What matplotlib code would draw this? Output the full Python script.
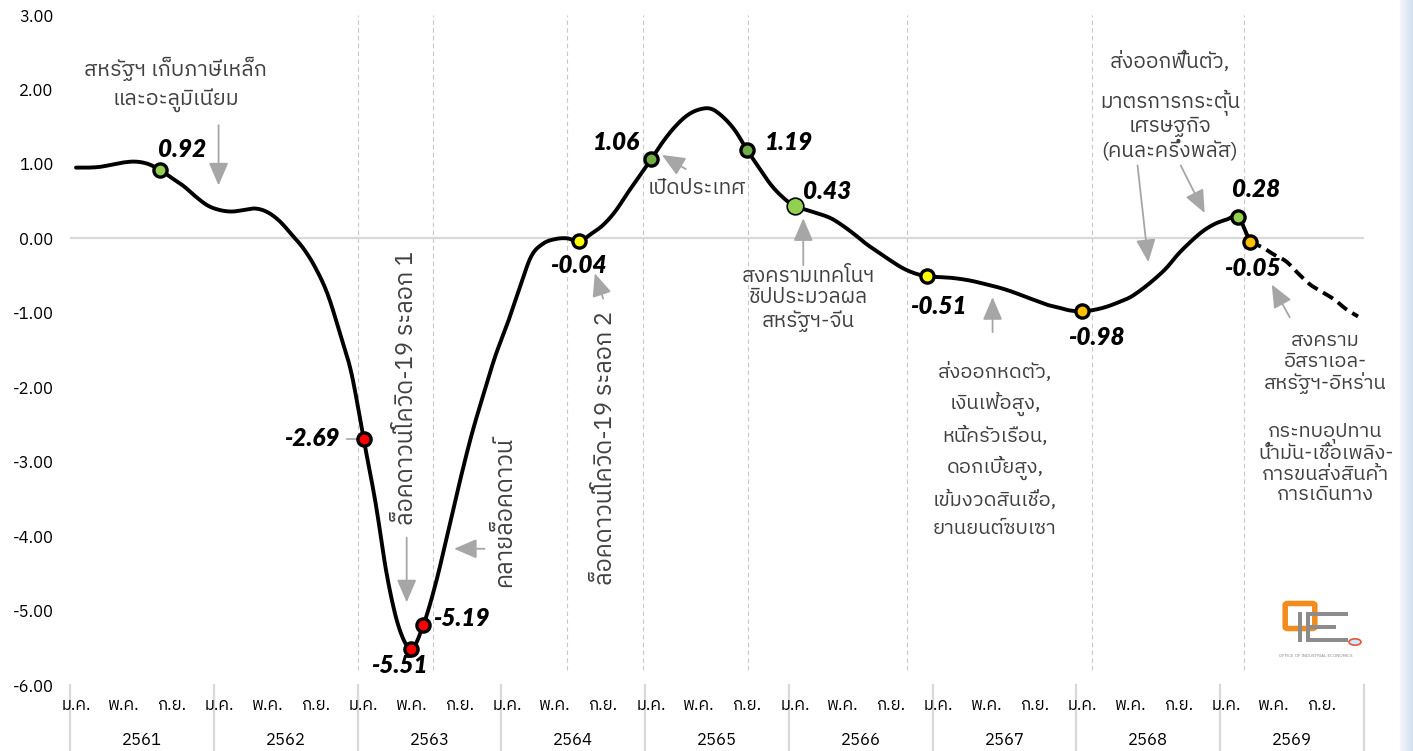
import matplotlib

matplotlib.use("Agg")
import matplotlib.pyplot as plt
import numpy as np
from matplotlib import font_manager as fm
from matplotlib.ft2font import FT2Font
from matplotlib.colors import LinearSegmentedColormap
from matplotlib.patches import FancyBboxPatch, Rectangle, Circle

# ---- data (monthly index, Jan 2561 = 0) ----
years = ["2561", "2562", "2563", "2564", "2565", "2566", "2567", "2568", "2569"]
month_labels = ["ม.ค.", "พ.ค.", "ก.ย."]
month_offsets = [0, 4, 8]

actual = [
    0.95, 0.95, 0.96, 0.99, 1.02, 1.03, 1.00, 0.92, 0.81, 0.70, 0.56, 0.44,
    0.38, 0.36, 0.38, 0.40, 0.35, 0.23, 0.05, -0.14, -0.40, -0.75, -1.26, -1.82,
    -2.69, -3.55, -4.57, -5.25, -5.51, -5.19, -4.65, -3.98, -3.29, -2.65, -2.10, -1.58,
    -1.15, -0.68, -0.24, -0.07, -0.01, 0.00, -0.04, 0.06, 0.18, 0.36, 0.60, 0.83,
    1.06, 1.30, 1.50, 1.65, 1.73, 1.74, 1.63, 1.45, 1.19, 0.95, 0.72, 0.55,
    0.43, 0.38, 0.33, 0.27, 0.17, 0.05, -0.08, -0.19, -0.30, -0.40, -0.47, -0.51,
    -0.52, -0.53, -0.55, -0.58, -0.62, -0.66, -0.71, -0.77, -0.83, -0.89, -0.93, -0.97,
    -0.98, -0.96, -0.92, -0.86, -0.79, -0.68, -0.55, -0.40, -0.21, -0.05, 0.09, 0.19,
    0.25, 0.28, -0.05,
]
forecast = [-0.05, -0.12, -0.22, -0.31, -0.47, -0.62, -0.72, -0.82, -0.95, -1.05]

marker_months = [7, 24, 28, 29, 42, 48, 56, 60, 71, 84, 97, 98]
marker_colors = ["#92D050", "#FF0000", "#FF0000", "#FF0000", "#FFFF00", "#70AD47",
                 "#70AD47", "#92D050", "#FFFF00", "#FFC000", "#92D050", "#FFC000"]
event_lines = [23.5, 29.8, 41.0, 47.35, 56.1, 69.35, 84.8, 97.45]


def thai_family():
    found = []
    for entry in fm.fontManager.ttflist:
        try:
            cmap = FT2Font(entry.fname).get_charmap()
        except Exception:
            continue
        if 0x0E01 in cmap and 0x0E2A in cmap:
            found.append(entry.name)
    found = sorted(set(found), key=lambda n: ("Thai" not in n, "Looped" in n, n))
    return found[0] if found else "DejaVu Sans"


def smooth(xs, ys, steps=8):
    # Catmull-Rom path through the points, like a spreadsheet "smoothed line"
    xs, ys = np.asarray(xs, float), np.asarray(ys, float)
    px_ = np.concatenate([[2 * xs[0] - xs[1]], xs, [2 * xs[-1] - xs[-2]]])
    py_ = np.concatenate([[2 * ys[0] - ys[1]], ys, [2 * ys[-1] - ys[-2]]])
    out_x, out_y = [], []
    t = np.linspace(0, 1, steps, endpoint=False)
    for i in range(1, len(px_) - 2):
        for arr_in, out in ((px_, out_x), (py_, out_y)):
            p0, p1, p2, p3 = arr_in[i - 1:i + 3]
            out.extend(0.5 * ((2 * p1) + (-p0 + p2) * t + (2 * p0 - 5 * p1 + 4 * p2 - p3) * t ** 2
                              + (-p0 + 3 * p1 - 3 * p2 + p3) * t ** 3))
    out_x.append(xs[-1])
    out_y.append(ys[-1])
    return out_x, out_y


THAI = thai_family()
plt.rcParams["font.family"] = [THAI, "DejaVu Sans"]

W, H = 1413, 751
fig = plt.figure(figsize=(W / 100, H / 100), dpi=100)
fig.patch.set_facecolor("white")
ax = fig.add_axes([70 / W, 66 / H, 1294 / W, 670 / H])
ax.set_xlim(-0.5, 107.5)
ax.set_ylim(-6, 3)
for spine in ax.spines.values():
    spine.set_visible(False)

n_act = len(actual)
x_act = np.arange(n_act)
x_fc = np.arange(n_act - 1, n_act - 1 + len(forecast))

ax.axhline(0, color="#D9D9D9", lw=1.6, zorder=1)
for m in event_lines:
    ax.axvline(m, ymin=0.022, ymax=1, color="#C8C8C8", lw=0.8, ls=(0, (4, 3)), zorder=0)

ax.plot(*smooth(x_act, actual), color="black", lw=2.8, solid_joinstyle="round",
        solid_capstyle="round", zorder=3)
ax.plot(*smooth(x_fc, forecast), color="black", lw=2.8, ls=(0, (3, 1.6)), zorder=3)

series = list(actual) + list(forecast[1:])
for m, c in zip(marker_months, marker_colors):
    big = m == 60
    ax.plot(m, series[m], "o", ms=12 if big else 9.5, mfc=c, mec="black",
            mew=1.2 if big else 2.4, zorder=5)

label_offsets = {7: (22, 20, "center"), 24: (-24, 0, "right"), 28: (-12, -17, "center"),
                 29: (10, 6, "left"), 42: (-1, -24, "center"), 48: (-35, 17, "center"),
                 56: (42, 7, "center"), 60: (32, 15, "center"), 71: (12, -30, "center"),
                 84: (14, -26, "center"), 97: (18, 28, "center"), 98: (2, -26, "center")}
for m in marker_months:
    dx, dy, ha = label_offsets[m]
    ax.annotate(f"{series[m]:.2f}", (m, series[m]), xytext=(dx, dy), textcoords="offset pixels",
                ha=ha, va="center", fontsize=17.5, fontweight="heavy", style="italic",
                family=["Lato", "DejaVu Sans"], color="black", zorder=6)

# leader tick for -2.69
ax.plot([22.6, 23.7], [-2.69, -2.69], color="#A6A6A6", lw=1.2, zorder=4)

# ---- annotations ----
gray_txt = "#404040"
arrow = dict(arrowstyle="-|>,head_length=0.7,head_width=0.3", color="#A6A6A6", lw=1.3,
             mutation_scale=20, shrinkA=0, shrinkB=0)
tsize = 14.5


def note(x, y, text, rot=0, ls=1.25, size=tsize):
    ax.text(x, y, text, ha="center", va="center", rotation=rot, fontsize=size,
            color=gray_txt, linespacing=ls, zorder=4)


def arr(x0, y0, x1, y1):
    ax.annotate("", xy=(x1, y1), xytext=(x0, y0), arrowprops=arrow, zorder=4)


note(8.3, 2.07, "สหรัฐฯ เก็บภาษีเหล็ก\nและอะลูมิเนียม", ls=1.4, size=15.5)
arr(11.9, 1.52, 11.9, 0.71)
note(27.6, -2.01, "ล็อคดาวน์โควิด-19 ระลอก 1", rot=90, size=17)
arr(27.6, -4.02, 27.6, -4.89)
note(35.8, -3.68, "คลายล็อคดาวน์", rot=90, size=17)
arr(34.1, -4.17, 31.55, -4.17)
note(44.2, -2.81, "ล็อคดาวน์โควิด-19 ระลอก 2", rot=90, size=17)
arr(44.0, -0.81, 43.3, -0.47)
note(51.8, 0.67, "เปิดประเทศ", size=15)
arr(50.9, 0.93, 48.9, 1.12)
note(61.1, -0.82, "สงครามเทคโนฯ\nชิปประมวลผล\nสหรัฐฯ-จีน", ls=1.15, size=15)
arr(60.7, -0.36, 60.7, 0.27)
note(76.7, -2.84, "ส่งออกหดตัว,\nเงินเฟ้อสูง,\nหนี้ครัวเรือน,\nดอกเบี้ยสูง,\nเข้มงวดสินเชื่อ,\nยานยนต์ซบเซา", ls=1.6)
arr(76.5, -1.26, 76.5, -0.79)
note(91.3, 2.37, "ส่งออกฟื้นตัว,", size=15)
note(91.3, 1.53, "มาตรการกระตุ้น\nเศรษฐกิจ\n(คนละครึ่งพลัส)", ls=1.12, size=15)
arr(88.6, 0.98, 89.5, -0.32)
arr(92.2, 0.98, 94.2, 0.34)
note(104.3, -1.67, "สงคราม\nอิสราเอล-\nสหรัฐฯ-อิหร่าน", ls=1.1)
note(104.3, -3.02, "กระทบอุปทาน\nน้ำมัน-เชื้อเพลิง-\nการขนส่งสินค้า\nการเดินทาง", ls=1.1)
arr(101.3, -1.06, 99.8, -0.62)

# ---- axes ticks ----
ax.set_yticks(np.arange(-6, 3.01, 1))
ax.set_yticklabels([f"{v:.2f}" for v in np.arange(-6, 3.01, 1)])
ax.tick_params(axis="y", length=0, pad=12, labelsize=12, labelcolor="black")

xt, xl = [], []
for i in range(len(years)):
    for off, lab in zip(month_offsets, month_labels):
        xt.append(12 * i + off)
        xl.append(lab)
ax.set_xticks(xt)
ax.set_xticklabels(xl)
ax.tick_params(axis="x", length=0, pad=9, labelsize=12, labelcolor="black")

xtr = ax.get_xaxis_transform()
for i, yr in enumerate(years):
    ax.annotate(yr, (12 * i + 5.5, 0), xycoords=xtr, xytext=(0, -55), textcoords="offset pixels",
                ha="center", va="center", fontsize=12, color="black")
for i in range(len(years) + 1):
    ax.plot([12 * i - 0.5] * 2, [0, -0.1], transform=xtr, color="#D9D9D9", lw=1.6,
            clip_on=False, zorder=0)


# ---- logo and side strip (decoration) ----
def px(x, y):
    return x / W, 1 - y / H


fig.add_artist(FancyBboxPatch(px(1288, 627), 24 / W, 22 / H, boxstyle="round,pad=0.002",
                              transform=fig.transFigure, fc="none", ec="#F28C1E", lw=4))
fig.add_artist(Rectangle(px(1298, 642), 4 / W, 30 / H, transform=fig.transFigure, fc="#8C8C8C", ec="none"))
fig.add_artist(Rectangle(px(1306, 642), 4 / W, 30 / H, transform=fig.transFigure, fc="#8C8C8C", ec="none"))
fig.add_artist(Rectangle(px(1306, 616), 42 / W, 4 / H, transform=fig.transFigure, fc="#8C8C8C", ec="none"))
fig.add_artist(Rectangle(px(1306, 629), 30 / W, 4 / H, transform=fig.transFigure, fc="#8C8C8C", ec="none"))
fig.add_artist(Rectangle(px(1306, 642), 42 / W, 4 / H, transform=fig.transFigure, fc="#8C8C8C", ec="none"))
fig.add_artist(Circle(px(1355, 642), 6 / W, transform=fig.transFigure, fc="#CFE8F7", ec="#E8553A", lw=1.2))
fig.text(*px(1316, 656), "OFFICE OF INDUSTRIAL ECONOMICS", fontsize=3, color="#8C8C8C",
         family="DejaVu Sans", va="center", ha="center")

strip = fig.add_axes([1400 / W, 0, 13 / W, 1])
cmap = LinearSegmentedColormap.from_list("s", ["#F3F6FB", "#D3DFEE"])
grad = np.tile(np.linspace(0, 1, 20), (60, 1))
strip.imshow(grad, aspect="auto", cmap=cmap)
strip.axis("off")

fig.savefig("out.png", dpi=100, facecolor="white")
